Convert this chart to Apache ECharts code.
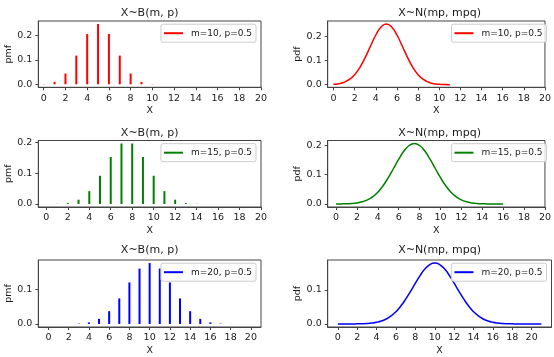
<!DOCTYPE html>
<html><head><meta charset="utf-8">
<script src="https://cdn.jsdelivr.net/npm/echarts@6/dist/echarts.min.js"></script>
<style>html,body{margin:0;padding:0;background:#fff}#c{width:554px;height:357px}</style>
</head><body><div id="c"></div>
<script>
const xTicks = [0,2,4,6,8,10,12,14,16,18,20];
const titlesLeft = 'X~B(m, p)';
const titlesRight = 'X~N(mp, mpq)';
const labels = ['m=10, p=0.5','m=15, p=0.5','m=20, p=0.5'];
const colors = ['#ff0000','#008000','#0000ff'];

const k10 = [0,1,2,3,4,5,6,7,8,9,10];
const pmf10 = [0.0010,0.0098,0.0439,0.1172,0.2051,0.2461,0.2051,0.1172,0.0439,0.0098,0.0010];
const k15 = [0,1,2,3,4,5,6,7,8,9,10,11,12,13,14,15];
const pmf15 = [0.00003,0.0005,0.0032,0.0139,0.0417,0.0916,0.1527,0.1964,0.1964,0.1527,0.0916,0.0417,0.0139,0.0032,0.0005,0.00003];
const k20 = [0,1,2,3,4,5,6,7,8,9,10,11,12,13,14,15,16,17,18,19,20];
const pmf20 = [0.000001,0.00002,0.0002,0.0011,0.0046,0.0148,0.0370,0.0739,0.1201,0.1602,0.1762,0.1602,0.1201,0.0739,0.0370,0.0148,0.0046,0.0011,0.0002,0.00002,0.000001];

const x10 = [0,0.5,1,1.5,2,2.5,3,3.5,4,4.5,5,5.5,6,6.5,7,7.5,8,8.5,9,9.5,10,10.5,11];
const pdf10 = [0.0017,0.0044,0.0103,0.0218,0.0417,0.0723,0.1134,0.1609,0.2066,0.2400,0.2523,0.2400,0.2066,0.1609,0.1134,0.0723,0.0417,0.0218,0.0103,0.0044,0.0017,0.0006,0.0002];
const x15 = [0,0.5,1,1.5,2,2.5,3,3.5,4,4.5,5,5.5,6,6.5,7,7.5,8,8.5,9,9.5,10,10.5,11,11.5,12,12.5,13,13.5,14,14.5,15,15.5,16];
const pdf15 = [0.0001,0.0003,0.0007,0.0017,0.0037,0.0074,0.0139,0.0244,0.0402,0.0621,0.0895,0.1209,0.1526,0.1803,0.1993,0.2060,0.1993,0.1803,0.1526,0.1209,0.0895,0.0621,0.0402,0.0244,0.0139,0.0074,0.0037,0.0017,0.0007,0.0003,0.0001,0.00004,0.00001];
const x20 = [0,0.5,1,1.5,2,2.5,3,3.5,4,4.5,5,5.5,6,6.5,7,7.5,8,8.5,9,9.5,10,10.5,11,11.5,12,12.5,13,13.5,14,14.5,15,15.5,16,16.5,17,17.5,18,18.5,19,19.5,20,20.5,21];
const pdf20 = [0.000008,0.00002,0.00005,0.00013,0.0003,0.00064,0.00133,0.00261,0.00487,0.00866,0.01464,0.0235,0.0360,0.0524,0.0725,0.0955,0.1196,0.1425,0.1614,0.1740,0.1784,0.1740,0.1614,0.1425,0.1196,0.0955,0.0725,0.0524,0.0360,0.0235,0.01464,0.00866,0.00487,0.00261,0.00133,0.00064,0.0003,0.00013,0.00005,0.00002,0.000008,0.000003,0.000001];

const ks = [k10,k15,k20], pmfs = [pmf10,pmf15,pmf20];
const xs = [x10,x15,x20], pdfs = [pdf10,pdf15,pdf20];

const FONT = 'DejaVu Sans';
const TXT = '#1a1a1a';
const SPINE = '#444';
const rowTop = [21, 140.5, 260];
const rowH = [66.3, 66.5, 67];
const titleTop = [7.3, 127.2, 244.8];
const colLeft = [38.3, 327.7];
const colW = [222.7, 223.8];
const xRange = [[[-0.5,20],[-0.55,20]],[[-0.75,20],[-0.8,20]],[[-1,21],[-1.05,22.05]]];
const yRange = [[[-0.0123,0.2584],[-0.0108,0.2648]],[[-0.0098,0.2062],[-0.0103,0.2163]],[[-0.0088,0.1850],[-0.0089,0.1873]]];
const yTicks = [[0,0.1,0.2],[0,0.1,0.2],[0,0.1]];

const grid=[], xAxis=[], yAxis=[], series=[], title=[], legend=[];
for (let r=0;r<3;r++){
  for (let c=0;c<2;c++){
    const gi = r*2+c;
    grid.push({left:colLeft[c], top:rowTop[r], width:colW[c], height:rowH[r], show:true, borderColor:SPINE, borderWidth:1, backgroundColor:'transparent'});
    xAxis.push({type:'value', gridIndex:gi, min:xRange[r][c][0], max:xRange[r][c][1],
      name:'X', nameLocation:'middle', nameGap:18.5, nameTextStyle:{fontFamily:FONT,fontSize:9.5,color:TXT},
      axisLine:{show:true,onZero:false,lineStyle:{color:SPINE,width:1}},
      axisTick:{show:true,length:3,customValues:xTicks,lineStyle:{color:SPINE,width:1}},
      axisLabel:{customValues:xTicks,margin:6,fontFamily:FONT,fontSize:9.5,color:TXT,formatter:v=>String(v)},
      splitLine:{show:false}});
    yAxis.push({type:'value', gridIndex:gi, min:yRange[r][c][0], max:yRange[r][c][1],
      name: c===0?'pmf':'pdf', nameLocation:'middle', nameGap:24, nameRotate:90, nameTextStyle:{fontFamily:FONT,fontSize:9.5,color:TXT},
      axisLine:{show:true,onZero:false,lineStyle:{color:SPINE,width:1}},
      axisTick:{show:true,length:3,customValues:yTicks[r],lineStyle:{color:SPINE,width:1}},
      axisLabel:{customValues:yTicks[r],margin:6,fontFamily:FONT,fontSize:9.5,color:TXT,formatter:v=>v.toFixed(1)},
      splitLine:{show:false}});
    title.push({text: c===0?titlesLeft:titlesRight, left: colLeft[c]+colW[c]/2, top:titleTop[r], textAlign:'center', padding:0,
      textStyle:{fontFamily:FONT,fontSize:11,fontWeight:'normal',color:TXT}});
    if (c===0){
      series.push({type:'bar', name:labels[r], xAxisIndex:gi, yAxisIndex:gi, barWidth:2,
        itemStyle:{color:colors[r]}, data: ks[r].map((k,i)=>[k,pmfs[r][i]]), animation:false});
    } else {
      series.push({type:'line', name:labels[r], xAxisIndex:gi, yAxisIndex:gi, showSymbol:false, smooth:true,
        lineStyle:{color:colors[r],width:1.5}, itemStyle:{color:colors[r]}, data: xs[r].map((x,i)=>[x,pdfs[r][i]]), animation:false});
    }
    legend.push({data:[labels[r]], right: 554-(colLeft[c]+colW[c]-5), top: rowTop[r]+3.2, orient:'horizontal',
      icon:'rect', itemWidth:19, itemHeight:2, itemGap:0, selectedMode:false,
      padding:[4,4,4,3], borderColor:'#cccccc', borderWidth:1, borderRadius:2, backgroundColor:'rgba(255,255,255,0.8)',
      textStyle:{fontFamily:FONT,fontSize:9,color:TXT,padding:[0,0,0,3],lineHeight:10}});
  }
}
const chart = echarts.init(document.getElementById('c'), null, {renderer:'canvas'});
chart.setOption({animation:false, backgroundColor:'#fff', grid, xAxis, yAxis, series, title, legend});
</script></body></html>
